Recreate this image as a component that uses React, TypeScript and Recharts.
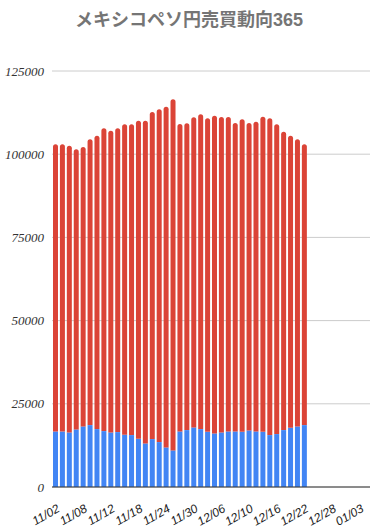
import React from "react";
import { BarChart, Bar, XAxis, YAxis, CartesianGrid } from "recharts";

const dates = [
  "11/02", "11/03", "11/04", "11/05", "11/08", "11/09", "11/10", "11/11", "11/12", "11/15",
  "11/16", "11/17", "11/18", "11/19", "11/22", "11/23", "11/24", "11/25", "11/26", "11/29",
  "11/30", "12/01", "12/02", "12/03", "12/06", "12/07", "12/08", "12/09", "12/10", "12/13",
  "12/14", "12/15", "12/16", "12/17", "12/20", "12/21", "12/22", "12/23", "12/24", "12/27",
  "12/28", "12/29", "12/30", "12/31", "01/03", "01/04",
];

// blue = 買い, red = 売り (37 trading days with data)
const buy = [
  16700, 16700, 16400, 17300, 18200, 18600, 17400, 16800, 16400, 16500,
  15700, 15600, 14500, 13100, 14400, 13500, 11900, 11000, 16700, 17100,
  17900, 17400, 16600, 16100, 16400, 16700, 16700, 16600, 17000, 16700,
  16600, 15600, 15900, 17100, 17800, 18200, 18600,
];
const sell = [
  86300, 86300, 86150, 84170, 83960, 85880, 88160, 90980, 90660, 91280,
  93280, 93380, 95570, 96970, 98280, 99990, 102370, 105500, 92370, 92180,
  93190, 94590, 94190, 95470, 94780, 94480, 92680, 93890, 92380, 93070,
  94670, 95190, 93080, 89660, 87760, 86280, 84400,
];

const yTicks = [0, 25000, 50000, 75000, 100000, 125000];

const data = dates.map((d, i) => ({
  date: d,
  buy: i < buy.length ? buy[i] : null,
  sell: i < sell.length ? sell[i] : null,
}));

const font = '"Liberation Sans", Arial, sans-serif';
const serif = '"Liberation Serif", "Times New Roman", serif';

function DateTick({ x, y, payload }: any) {
  return (
    <text
      x={x + 5}
      y={y + 16}
      transform={`rotate(-30, ${x + 5}, ${y + 16})`}
      textAnchor="end"
      fontFamily={font}
      fontStyle="italic"
      fontSize={12}
      fill="#222"
    >
      {payload.value}
    </text>
  );
}

export default function App() {
  return (
    <div style={{ position: "absolute", left: 0, top: 0, width: 376, height: 530, background: "#fff" }}>
      <div
        style={{
          position: "absolute",
          top: 5,
          left: 0,
          width: 378,
          textAlign: "center",
          fontFamily: '"Liberation Sans", "Noto Sans CJK JP", sans-serif',
          fontWeight: "bold",
          fontSize: 18,
          color: "#757575",
        }}
      >
        メキシコペソ円売買動向365
      </div>
      <BarChart
        width={376}
        height={530}
        data={data}
        margin={{ top: 71, right: 6, bottom: 0, left: 0 }}
        barSize={5}
      >
        <CartesianGrid vertical={false} stroke="#cccccc" />
        <XAxis
          dataKey="date"
          interval={3}
          tickLine={false}
          axisLine={{ stroke: "#333" }}
          height={43}
          tick={<DateTick />}
        />
        <YAxis
          width={52}
          domain={[0, 125000]}
          ticks={yTicks}
          tickLine={false}
          axisLine={false}
          tick={{ fontFamily: serif, fontStyle: "italic", fontSize: 13, fill: "#333" }}
        />
        <Bar dataKey="buy" stackId="a" fill="#4285f4" isAnimationActive={false} />
        <Bar dataKey="sell" stackId="a" fill="#db4437" radius={[2.5, 2.5, 0, 0]} isAnimationActive={false} />
      </BarChart>
    </div>
  );
}
